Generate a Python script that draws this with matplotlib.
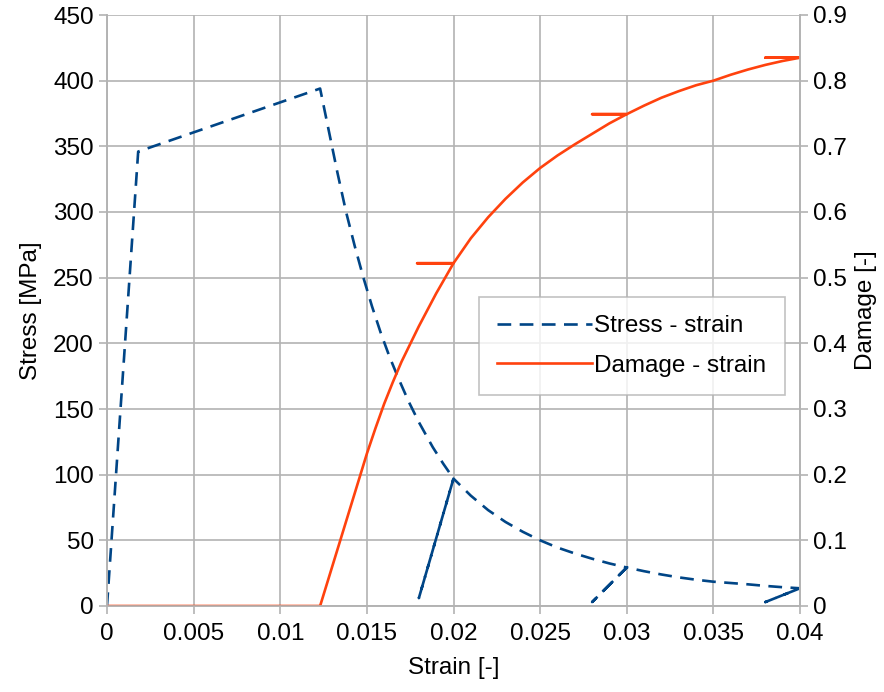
import matplotlib
matplotlib.use("Agg")
import matplotlib.pyplot as plt

plt.rcParams['font.family'] = ['Liberation Sans', 'DejaVu Sans']

# stress - strain (with unload / reload loops at 0.02, 0.03, 0.04)
strain_s = [0.0, 0.0018, 0.0123, 0.0128, 0.0133, 0.0138, 0.0143, 0.0148, 0.0153,
            0.0158, 0.0163, 0.0168, 0.0174, 0.0180, 0.0188, 0.0194, 0.0200,
            0.0180, 0.0200,
            0.0210, 0.0220, 0.0230, 0.0240, 0.0250, 0.0260, 0.0270, 0.0280, 0.0290, 0.0300,
            0.0280, 0.0300,
            0.0310, 0.0320, 0.0330, 0.0340, 0.0350, 0.0360, 0.0370, 0.0380, 0.0390, 0.0400,
            0.0380, 0.0400]
stress = [0, 346, 394, 362, 330, 300, 274, 250, 228,
          208, 190, 174, 156, 140, 121, 108.5, 97,
          6, 97,
          84, 73, 64, 56.5, 50, 44.5, 40, 36, 32.4, 29.3,
          3, 29.3,
          26.5, 24, 21.8, 20, 18.5, 17.5, 16.5, 15.3, 14.3, 13.5,
          3, 13.5]

# damage - strain (damage frozen during unloading)
strain_d = [0.0, 0.0123, 0.0135, 0.0145, 0.0150, 0.0155, 0.0160, 0.0165, 0.0170,
            0.0175, 0.0180, 0.0185, 0.0190, 0.0195, 0.0200, 0.0179, 0.0200,
            0.0210, 0.0220, 0.0230, 0.0240, 0.0250, 0.0260, 0.0270, 0.0280, 0.0290,
            0.0300, 0.0280, 0.0300,
            0.0310, 0.0320, 0.0330, 0.0340, 0.0350, 0.0360, 0.0370, 0.0380, 0.0390,
            0.0400, 0.0380, 0.0400]
damage = [0, 0, 0.103, 0.189, 0.232, 0.271, 0.308, 0.341, 0.372,
          0.399, 0.426, 0.451, 0.476, 0.499, 0.522, 0.522, 0.522,
          0.560, 0.592, 0.620, 0.645, 0.667, 0.686, 0.703, 0.719, 0.735,
          0.749, 0.749, 0.749,
          0.762, 0.774, 0.784, 0.793, 0.800, 0.809, 0.817, 0.824, 0.830,
          0.835, 0.835, 0.835]

xticks = [0, 0.005, 0.01, 0.015, 0.02, 0.025, 0.03, 0.035, 0.04]
xlabels = ['0', '0.005', '0.01', '0.015', '0.02', '0.025', '0.03', '0.035', '0.04']
yticks = list(range(0, 451, 50))
y2ticks = [0, 0.1, 0.2, 0.3, 0.4, 0.5, 0.6, 0.7, 0.8, 0.9]
y2labels = ['0', '0.1', '0.2', '0.3', '0.4', '0.5', '0.6', '0.7', '0.8', '0.9']

blue = '#004586'
red = '#ff420e'
grid = '#b3b3b3'
fs = 17.5

fig = plt.figure(figsize=(8.84, 6.92), dpi=100)
ax = fig.add_axes([107/884, 1-606/692, 693/884, 591/692])
ax2 = ax.twinx()

l1, = ax.plot(strain_s, stress, color=blue, lw=1.9, dashes=(5.2, 3.2),
              label='Stress - strain')
l2, = ax2.plot(strain_d, damage, color=red, lw=1.9, label='Damage - strain')

ax.set_xlim(0, 0.04)
ax.set_ylim(0, 450)
ax2.set_ylim(0, 0.9)
ax.set_xticks(xticks)
ax.set_xticklabels(xlabels)
ax.set_yticks(yticks)
ax2.set_yticks(y2ticks)
ax2.set_yticklabels(y2labels)

ax.grid(True, color=grid, lw=1.2)
ax.set_axisbelow(True)
for a in (ax, ax2):
    for s in a.spines.values():
        s.set_color(grid)
        s.set_linewidth(1.2)
    a.tick_params(colors=grid, labelcolor='black', labelsize=fs, length=6, width=1.2)
ax.tick_params(axis='x', pad=6)
ax.spines['top'].set_visible(False)
ax2.spines['top'].set_visible(False)

ax.set_xlabel('Strain [-]', fontsize=fs, labelpad=9)
ax.set_ylabel('Stress [MPa]', fontsize=fs, labelpad=8)
ax2.set_ylabel('Damage [-]', fontsize=fs, labelpad=6)

leg = ax2.legend(handles=[l1, l2], loc='upper left',
                 bbox_to_anchor=((479-107)/693, (606-297)/591),
                 fontsize=fs, frameon=True, fancybox=False, handlelength=3.9,
                 handletextpad=0.1, borderpad=0.75, borderaxespad=0,
                 labelspacing=0.72)
leg.get_frame().set_edgecolor(grid)
leg.get_frame().set_linewidth(1.2)

fig.savefig('out.png', dpi=100)
